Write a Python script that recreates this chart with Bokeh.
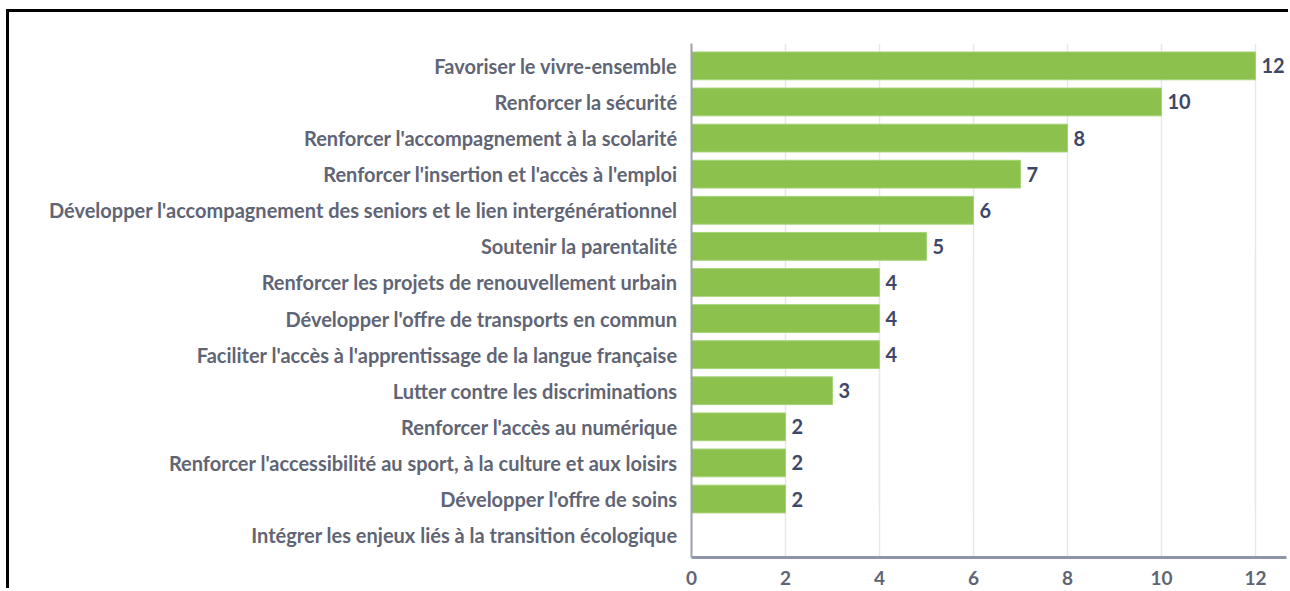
from bokeh.plotting import figure
from bokeh.models import ColumnDataSource, FactorRange, Range1d, FixedTicker, LabelSet
from bokeh.core.properties import value
from bokeh.embed import file_html
from bokeh.resources import INLINE

categories = [
    "Favoriser le vivre-ensemble",
    "Renforcer la sécurité",
    "Renforcer l'accompagnement à la scolarité",
    "Renforcer l'insertion et l'accès à l'emploi",
    "Développer l'accompagnement des seniors et le lien intergénérationnel",
    "Soutenir la parentalité",
    "Renforcer les projets de renouvellement urbain",
    "Développer l'offre de transports en commun",
    "Faciliter l'accès à l'apprentissage de la langue française",
    "Lutter contre les discriminations",
    "Renforcer l'accès au numérique",
    "Renforcer l'accessibilité au sport, à la culture et aux loisirs",
    "Développer l'offre de soins",
    "Intégrer les enjeux liés à la transition écologique",
]
counts = [12, 10, 8, 7, 6, 5, 4, 4, 4, 3, 2, 2, 2, 0]
x_ticks = [0, 2, 4, 6, 8, 10, 12]

FONT = "Lato"
LABEL_COLOR = "#5f6575"
VALUE_COLOR = "#3e4768"
BAR_COLOR = "#8bc14c"

src = ColumnDataSource(dict(
    cat=categories,
    val=counts,
    txt=[str(v) if v else "" for v in counts],
))

p = figure(
    width=1282, height=579,
    y_range=FactorRange(factors=list(reversed(categories)), range_padding=0.12,
                        range_padding_units="absolute"),
    x_range=Range1d(0, 12.66),
    output_backend="svg", toolbar_location=None,
    min_border_left=682, min_border_right=5, min_border_top=31, min_border_bottom=34,
)
p.styles = {"border-top": "3px solid black", "border-left": "3px solid black",
            "margin-left": "6px", "margin-top": "9px"}
p.outline_line_color = None
p.background_fill_color = "white"
p.border_fill_color = "white"

p.hbar(y="cat", right="val", left=0, height=0.77, source=src,
       fill_color=BAR_COLOR, line_color="#a6d37a", line_width=1)

labels = LabelSet(x="val", y="cat", text="txt", source=src, x_offset=6,
                  text_baseline="middle", text_align="left",
                  text_font=value(FONT), text_font_style="bold", text_font_size="20px",
                  text_color=VALUE_COLOR)
p.add_layout(labels)

p.ygrid.grid_line_color = None
p.xgrid.ticker = FixedTicker(ticks=x_ticks)
p.xgrid.grid_line_color = "#e8e8ec"
p.xgrid.grid_line_width = 1.5

xa = p.xaxis[0]
xa.ticker = FixedTicker(ticks=x_ticks)
xa.axis_line_color = "#8e95a8"
xa.axis_line_width = 3
xa.major_tick_line_color = None
xa.minor_tick_line_color = None
xa.major_tick_out = 0
xa.major_tick_in = 0
xa.major_label_standoff = 13
xa.major_label_text_font = FONT
xa.major_label_text_font_style = "bold"
xa.major_label_text_font_size = "19px"
xa.major_label_text_color = LABEL_COLOR

ya = p.yaxis[0]
ya.axis_line_color = "#9aa0ae"
ya.axis_line_width = 2
ya.major_tick_line_color = None
ya.minor_tick_line_color = None
ya.major_tick_out = 0
ya.major_tick_in = 0
ya.major_label_standoff = 14
ya.major_label_text_font = FONT
ya.major_label_text_font_style = "bold"
ya.major_label_text_font_size = "20px"
ya.major_label_text_color = LABEL_COLOR

open("out.html", "w").write(file_html(p, INLINE))
